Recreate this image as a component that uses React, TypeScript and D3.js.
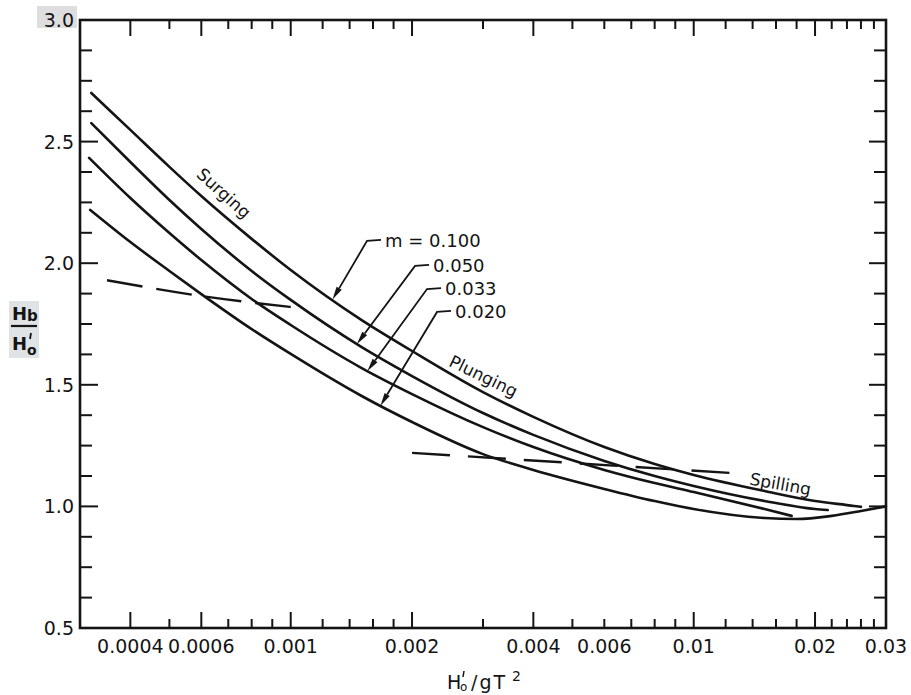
import React from 'react';
import * as d3 from 'd3';

// ---------- data ----------
const steep100 = [0.00032, 0.0004, 0.0005, 0.0006, 0.0008, 0.001, 0.0015, 0.002, 0.003, 0.004, 0.006, 0.008, 0.01, 0.015, 0.02, 0.025, 0.026];
const hb100 = [2.700, 2.548, 2.396, 2.276, 2.100, 1.972, 1.766, 1.639, 1.470, 1.368, 1.244, 1.174, 1.129, 1.063, 1.022, 1.002, 0.998];

const steep050 = [0.00032, 0.0004, 0.0005, 0.0006, 0.0008, 0.001, 0.0015, 0.002, 0.003, 0.004, 0.006, 0.008, 0.01, 0.015, 0.02, 0.0215];
const hb050 = [2.576, 2.416, 2.260, 2.141, 1.968, 1.849, 1.655, 1.536, 1.384, 1.294, 1.187, 1.125, 1.084, 1.022, 0.989, 0.985];

const steep033 = [0.000316, 0.0004, 0.0005, 0.0006, 0.0008, 0.001, 0.0015, 0.002, 0.003, 0.004, 0.006, 0.008, 0.01, 0.015, 0.0175];
const hb033 = [2.433, 2.268, 2.124, 2.013, 1.853, 1.746, 1.569, 1.462, 1.326, 1.244, 1.150, 1.096, 1.059, 0.989, 0.961];

const steep020 = [0.000318, 0.0004, 0.0005, 0.0006, 0.0008, 0.001, 0.0015, 0.002, 0.003, 0.004, 0.006, 0.008, 0.01, 0.015, 0.018, 0.022, 0.026, 0.03];
const hb020 = [2.219, 2.087, 1.968, 1.873, 1.729, 1.627, 1.454, 1.347, 1.215, 1.150, 1.072, 1.022, 0.989, 0.952, 0.948, 0.961, 0.981, 1.0];

// breaker-type boundaries (dashed)
const surgePlungeX = [0.00035, 0.0006, 0.001];
const surgePlungeY = [1.93, 1.865, 1.82];
const plungeSpillX = [0.002, 0.0125];
const plungeSpillY = [1.22, 1.137];

// slope labels and where their arrows touch the curves
const slopeLabels = ['m = 0.100', '0.050', '0.033', '0.020'];
const slopeArrowX = [0.00127, 0.00146, 0.00155, 0.00167];
const slopeLabelX = [0.001714, 0.002255, 0.002415, 0.002557];
const slopeLabelY = [2.067, 1.964, 1.869, 1.775];

// breaker-type region labels
const regionLabels = ['Surging', 'Plunging', 'Spilling'];
const regionX = [0.00068, 0.003, 0.0164];
const regionY = [2.285, 1.532, 1.088];
const regionAngle = [42, 26, 10];

// axis ticks
const xLabelTicks = [0.0004, 0.0006, 0.001, 0.002, 0.004, 0.006, 0.01, 0.02, 0.03];
const xTickLabels = ['0.0004', '0.0006', '0.001', '0.002', '0.004', '0.006', '0.01', '0.02', '0.03'];
const xLongTicks = [0.0004, 0.0006, 0.001, 0.002, 0.004, 0.01, 0.02];
const xShortTicks = [0.0005, 0.0007, 0.0008, 0.0009, 0.0012, 0.0014, 0.0016, 0.0018, 0.003, 0.005, 0.006, 0.007, 0.008, 0.009, 0.012, 0.014, 0.016, 0.018, 0.022, 0.024, 0.026, 0.028];
const yMajorTicks = [0.5, 1.0, 1.5, 2.0, 2.5, 3.0];
const yTickLabels = ['0.5', '1.0', '1.5', '2.0', '2.5', '3.0'];

const FONT = "'DejaVu Sans', 'Liberation Sans', sans-serif";
const INK = '#141414';

function interp(xs: number[], ys: number[], xv: number) {
  for (let i = 0; i < xs.length - 1; i++) {
    if (xv >= xs[i] && xv <= xs[i + 1]) {
      const t = Math.log(xv / xs[i]) / Math.log(xs[i + 1] / xs[i]);
      return ys[i] + t * (ys[i + 1] - ys[i]);
    }
  }
  return ys[ys.length - 1];
}

export default function App() {
  const W = 911, H = 695;
  const x = d3.scaleLog().domain([0.0003, 0.03]).range([80, 886]);
  const y = d3.scaleLinear().domain([0.5, 3.0]).range([628, 20]);
  const [x0, x1] = x.range();
  const [y0, y1] = y.range();

  const line = d3.line<[number, number]>()
    .x(d => x(d[0]))
    .y(d => y(d[1]))
    .curve(d3.curveMonotoneX);
  const straight = d3.line<[number, number]>().x(d => x(d[0])).y(d => y(d[1]));

  const series = [
    [steep100, hb100],
    [steep050, hb050],
    [steep033, hb033],
    [steep020, hb020],
  ] as [number[], number[]][];

  const zip = (a: number[], b: number[]) => a.map((v, i) => [v, b[i]] as [number, number]);

  const yMinor = d3.range(0.5, 3.0001, 0.125).filter(v => Math.abs(v * 2 - Math.round(v * 2)) > 1e-6);

  return (
    <svg width={W} height={H} style={{ position: 'absolute', left: 0, top: 0, background: '#fff' }}
      fontFamily={FONT}>
      <rect x={0} y={0} width={W} height={H} fill="#fff" />

      {/* scan-like grey patches behind 3.0 and y title */}
      <rect x={37} y={6} width={40} height={22} fill="#dedede" />
      <rect x={9} y={301} width={30} height={57} fill="#dfe3e6" />

      {/* curves */}
      {series.map(([xs, ys], i) => (
        <path key={'c' + i} d={line(zip(xs, ys)) || ''} fill="none" stroke={INK} strokeWidth={2.6} strokeLinecap="round" />
      ))}

      {/* dashed breaker-type boundaries */}
      <path d={line(zip(surgePlungeX, surgePlungeY)) || ''} fill="none" stroke={INK} strokeWidth={2.4} strokeDasharray="36 14" />
      <path d={straight(zip(plungeSpillX, plungeSpillY)) || ''} fill="none" stroke={INK} strokeWidth={2.4} strokeDasharray="38 18" />

      {/* slope labels with leaders and arrows */}
      {slopeLabels.map((lab, i) => {
        const [xs, ys] = series[i];
        const tx = x(slopeArrowX[i]);
        const ty = y(interp(xs, ys, slopeArrowX[i]));
        const lx = x(slopeLabelX[i]);
        const ly = y(slopeLabelY[i]);
        const sx = lx - 4, sy = ly - 7;
        const cx = sx - 14, cy = sy + 1;
        const dx = tx - cx, dy = ty - cy;
        const len = Math.hypot(dx, dy);
        const ux = dx / len, uy = dy / len;
        const ah = 13, aw = 3;
        const bx = tx - ux * ah, by = ty - uy * ah;
        const head = `M${tx},${ty} L${bx - uy * aw},${by + ux * aw} L${bx + uy * aw},${by - ux * aw} Z`;
        return (
          <g key={'s' + i}>
            <path d={`M${sx},${sy} L${cx},${cy} L${bx},${by}`} fill="none" stroke={INK} strokeWidth={1.8} />
            <path d={head} fill={INK} />
            <text x={lx} y={ly} fontSize={18} fill={INK}>{lab}</text>
          </g>
        );
      })}

      {/* region labels */}
      {regionLabels.map((lab, i) => (
        <text key={'r' + i} transform={`translate(${x(regionX[i])},${y(regionY[i])}) rotate(${regionAngle[i]})`}
          textAnchor="middle" dominantBaseline="middle" fontSize={17} fill={INK}>{lab}</text>
      ))}

      {/* frame */}
      <rect x={x0} y={y1} width={x1 - x0} height={y0 - y1} fill="none" stroke={INK} strokeWidth={2.6} />

      {/* x ticks (bottom and top, inward) */}
      {xLongTicks.map((t, i) => (
        <g key={'xl' + i}>
          <line x1={x(t)} x2={x(t)} y1={y0} y2={y0 - 16} stroke={INK} strokeWidth={2} />
          <line x1={x(t)} x2={x(t)} y1={y1} y2={y1 + 16} stroke={INK} strokeWidth={2} />
        </g>
      ))}
      {xShortTicks.map((t, i) => (
        <g key={'xs' + i}>
          <line x1={x(t)} x2={x(t)} y1={y0} y2={y0 - 9} stroke={INK} strokeWidth={2} />
          <line x1={x(t)} x2={x(t)} y1={y1} y2={y1 + 9} stroke={INK} strokeWidth={2} />
        </g>
      ))}
      {xLabelTicks.map((t, i) => (
        <text key={'xt' + i} x={x(t)} y={y0 + 25} textAnchor="middle" fontSize={19} fill={INK}>{xTickLabels[i]}</text>
      ))}

      {/* y ticks (left and right, inward) */}
      {yMajorTicks.map((t, i) => (
        <g key={'ym' + i}>
          <line x1={x0} x2={x0 + 18} y1={y(t)} y2={y(t)} stroke={INK} strokeWidth={2} />
          <line x1={x1} x2={x1 - 17} y1={y(t)} y2={y(t)} stroke={INK} strokeWidth={2} />
          <text x={x0 - 6} y={y(t)} textAnchor="end" dominantBaseline="central" fontSize={19} fill={INK}>{yTickLabels[i]}</text>
        </g>
      ))}
      {yMinor.map((t, i) => (
        <g key={'yn' + i}>
          <line x1={x0} x2={x0 + 12} y1={y(t)} y2={y(t)} stroke={INK} strokeWidth={2} />
          <line x1={x1} x2={x1 - 12} y1={y(t)} y2={y(t)} stroke={INK} strokeWidth={2} />
        </g>
      ))}

      {/* y axis title: Hb / H'o */}
      <g fill={INK} fontWeight="bold">
        <text x={12} y={320} fontSize={18}>H<tspan fontSize={15} dy={1}>b</tspan></text>
        <line x1={11} x2={37} y1={326} y2={326} stroke={INK} strokeWidth={2.2} />
        <text x={12} y={350} fontSize={18}>H</text>
        <line x1={31} x2={30} y1={333} y2={339} stroke={INK} strokeWidth={1.8} />
        <text x={27} y={355} fontSize={14}>o</text>
      </g>

      {/* x axis title: H'o / gT^2 */}
      <g fill={INK}>
        <text x={447} y={689} fontSize={19}>H</text>
        <line x1={464} x2={463} y1={671} y2={677} stroke={INK} strokeWidth={1.5} />
        <text x={460} y={691} fontSize={12}>o</text>
        <text x={471} y={689} fontSize={19} letterSpacing={2}>/gT</text>
        <text x={512} y={681} fontSize={14}>2</text>
      </g>
    </svg>
  );
}
